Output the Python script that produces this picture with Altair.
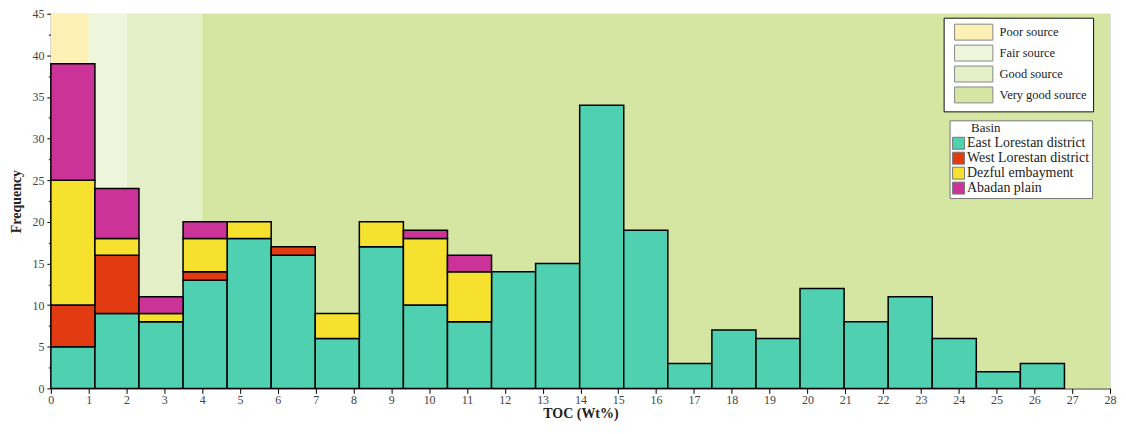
import altair as alt
import pandas as pd

# ---- data ----
bin_edges = [0, 1.165, 2.33, 3.495, 4.66, 5.825, 6.99, 8.155, 9.32, 10.485, 11.65, 12.815,
             13.98, 15.145, 16.31, 17.475, 18.64, 19.805, 20.97, 22.135, 23.3, 24.465, 25.63, 26.795]
basins = ["East Lorestan district", "West Lorestan district", "Dezful embayment", "Abadan plain"]
basin_colors = ["#4fd0b1", "#e23b12", "#f6e12e", "#cc3399"]
east = [5, 9, 8, 13, 18, 16, 6, 17, 10, 8, 14, 15, 34, 19, 3, 7, 6, 12, 8, 11, 6, 2, 3]
west = [5, 7, 0, 1, 0, 1, 0, 0, 0, 0, 0, 0, 0, 0, 0, 0, 0, 0, 0, 0, 0, 0, 0]
dezful = [15, 2, 1, 4, 2, 0, 3, 3, 8, 6, 0, 0, 0, 0, 0, 0, 0, 0, 0, 0, 0, 0, 0]
abadan = [14, 6, 2, 2, 0, 0, 0, 0, 1, 2, 0, 0, 0, 0, 0, 0, 0, 0, 0, 0, 0, 0, 0]

band_names = ["Poor source", "Fair source", "Good source", "Very good source"]
band_from = [0, 1, 2, 4]
band_to = [1, 2, 4, 28]
band_colors = ["#fdf0b4", "#edf5da", "#e2efc7", "#d4e6a2"]

x_ticks = list(range(0, 29))
y_ticks = [i * 2.5 for i in range(0, 19)]

FONT = "Liberation Serif"

rows = []
for series, name in zip([east, west, dezful, abadan], basins):
    for i, v in enumerate(series):
        if v > 0:
            rows.append({"start": bin_edges[i], "end": bin_edges[i + 1], "basin": name,
                         "idx": basins.index(name), "count": v})
bar_df = pd.DataFrame(rows)
band_df = pd.DataFrame({"band": band_names, "from": band_from, "to": band_to,
                        "lo": [0] * 4, "hi": [45] * 4})

xscale = alt.Scale(domain=[0, 28], nice=False, zero=False)
yscale = alt.Scale(domain=[0, 45], nice=False)

xaxis = alt.Axis(values=x_ticks, title="TOC (Wt%)", grid=False, domainColor="black",
                 tickColor="black", tickSize=5, labelColor="#444", labelFontSize=12,
                 labelPadding=1, titleFontSize=14, titleFontWeight="bold", titlePadding=1,
                 labelFont=FONT, titleFont=FONT, titleColor="#222", labelFlush=False)
yaxis = alt.Axis(values=y_ticks, title="Frequency", grid=False, domainColor="black",
                 tickColor="black",
                 tickSize={"condition": {"test": "datum.value % 5 === 0", "value": 4}, "value": 2.5},
                 labelExpr="datum.value % 5 === 0 ? datum.label : ''",
                 labelColor="#444", labelFontSize=12, labelPadding=3, titleFontSize=14,
                 titleFontWeight="bold", titlePadding=8, labelFont=FONT, titleFont=FONT,
                 titleColor="#222")

bands = alt.Chart(band_df).mark_rect().encode(
    x=alt.X("from:Q", scale=xscale, axis=xaxis),
    x2="to:Q",
    y=alt.Y("lo:Q", scale=yscale, axis=yaxis),
    y2="hi:Q",
    fill=alt.Fill("band:N", scale=alt.Scale(domain=band_names, range=band_colors),
                  legend=alt.Legend(
                      title=None, orient="none", legendX=896, legendY=4,
                      symbolType="M-2.4,-1H2.4V1H-2.4Z", symbolSize=256,
                      symbolOffset=15.7, labelOffset=17.4,
                      symbolStrokeColor="#888", symbolStrokeWidth=1,
                      labelFont=FONT, labelFontSize=12.5, labelColor="#222",
                      rowPadding=0, padding=6, strokeColor="#111", fillColor="white")),
)

bars = alt.Chart(bar_df).transform_stack(
    stack="count", groupby=["start"], as_=["y0", "y1"],
    sort=[alt.SortField("idx", order="ascending")],
).mark_rect(stroke="black", strokeWidth=1.5).encode(
    x=alt.X("start:Q", scale=xscale, axis=xaxis),
    x2="end:Q",
    y=alt.Y("y0:Q", scale=yscale, axis=yaxis),
    y2="y1:Q",
    fill=alt.Fill("basin:N", scale=alt.Scale(domain=basins, range=basin_colors),
                  legend=alt.Legend(
                      title="\u200b\u2003\u2002Basin", orient="none", legendX=902, legendY=107,
                      symbolType="square", symbolSize=144, symbolStrokeColor="#777",
                      symbolStrokeWidth=1, labelFont=FONT, labelFontSize=14,
                      labelColor="#222", labelOffset=1.5, rowPadding=-5.6,
                      titleFont=FONT, titleFontSize=13, titleFontWeight="normal",
                      titleColor="#222", titlePadding=1, padding=2,
                      strokeColor="#777", fillColor="white")),
)

chart = alt.layer(bands, bars).resolve_scale(fill="independent").properties(
    width=1063, height=376,
    autosize=alt.AutoSizeParams(type="none"),
    padding={"left": 43, "top": 5, "right": 8, "bottom": 34},
).configure_view(stroke=None).configure_legend(strokeWidth=2).configure(font=FONT)

chart.save("out.html", embed_options={"renderer": "svg", "actions": False})
